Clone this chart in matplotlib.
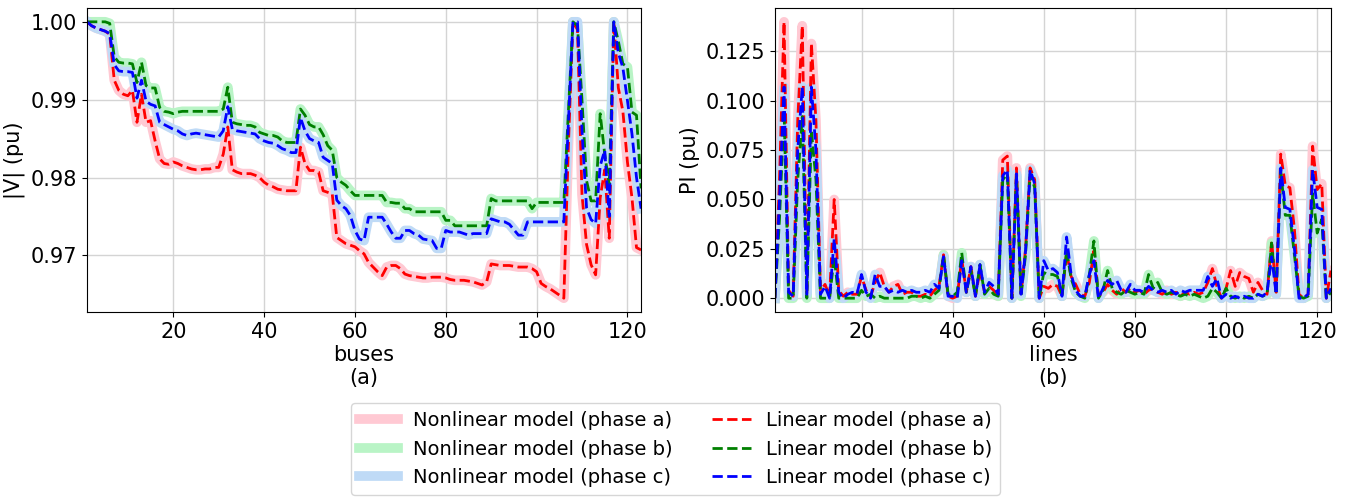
import matplotlib
matplotlib.use('Agg')
import matplotlib.pyplot as plt
import numpy as np

# bus voltage magnitudes |V| (pu), phases a, b, c
v_a = [1.0000, 0.9995, 0.9992, 0.9990, 0.9988, 0.9984, 0.9925, 0.9912, 0.9907, 0.9905,
       0.9912, 0.9871, 0.9907, 0.9871, 0.9873, 0.9847, 0.9824, 0.9818, 0.9817, 0.9820,
       0.9818, 0.9815, 0.9813, 0.9811, 0.9810, 0.9810, 0.9811, 0.9811, 0.9813, 0.9813,
       0.9830, 0.9865, 0.9810, 0.9807, 0.9805, 0.9805, 0.9805, 0.9803, 0.9800, 0.9794,
       0.9790, 0.9788, 0.9785, 0.9784, 0.9783, 0.9783, 0.9783, 0.9839, 0.9818, 0.9809,
       0.9809, 0.9807, 0.9783, 0.9781, 0.9779, 0.9723, 0.9719, 0.9715, 0.9713, 0.9711,
       0.9706, 0.9702, 0.9691, 0.9685, 0.9679, 0.9674, 0.9685, 0.9687, 0.9687, 0.9683,
       0.9676, 0.9674, 0.9673, 0.9672, 0.9671, 0.9671, 0.9672, 0.9672, 0.9672, 0.9671,
       0.9669, 0.9668, 0.9668, 0.9668, 0.9667, 0.9666, 0.9664, 0.9662, 0.9666, 0.9689,
       0.9688, 0.9687, 0.9687, 0.9687, 0.9686, 0.9685, 0.9685, 0.9685, 0.9683, 0.9679,
       0.9664, 0.9660, 0.9657, 0.9653, 0.9649, 0.9645, 0.9840, 1.0000, 0.9990, 0.9778,
       0.9714, 0.9688, 0.9675, 0.9774, 0.9810, 0.9722, 1.0000, 0.9915, 0.9885, 0.9820,
       0.9774, 0.9710, 0.9707]
v_b = [1.0000, 1.0000, 1.0000, 1.0000, 1.0000, 0.9998, 0.9955, 0.9948, 0.9947, 0.9947,
       0.9946, 0.9922, 0.9948, 0.9918, 0.9915, 0.9915, 0.9890, 0.9885, 0.9884, 0.9882,
       0.9884, 0.9885, 0.9885, 0.9885, 0.9885, 0.9885, 0.9885, 0.9885, 0.9885, 0.9885,
       0.9888, 0.9916, 0.9871, 0.9869, 0.9868, 0.9867, 0.9867, 0.9865, 0.9858, 0.9856,
       0.9854, 0.9854, 0.9852, 0.9847, 0.9845, 0.9845, 0.9845, 0.9888, 0.9880, 0.9868,
       0.9865, 0.9865, 0.9855, 0.9841, 0.9835, 0.9800, 0.9794, 0.9790, 0.9783, 0.9777,
       0.9777, 0.9777, 0.9777, 0.9777, 0.9777, 0.9777, 0.9768, 0.9768, 0.9767, 0.9767,
       0.9760, 0.9760, 0.9756, 0.9756, 0.9756, 0.9756, 0.9756, 0.9756, 0.9756, 0.9745,
       0.9745, 0.9738, 0.9738, 0.9738, 0.9738, 0.9738, 0.9738, 0.9738, 0.9738, 0.9773,
       0.9770, 0.9770, 0.9770, 0.9770, 0.9770, 0.9770, 0.9770, 0.9770, 0.9760, 0.9768,
       0.9768, 0.9768, 0.9768, 0.9768, 0.9768, 0.9768, 0.9885, 1.0000, 0.9995, 0.9899,
       0.9796, 0.9770, 0.9770, 0.9882, 0.9830, 0.9790, 1.0000, 0.9975, 0.9946, 0.9942,
       0.9884, 0.9880, 0.9786]
v_c = [1.0000, 0.9995, 0.9992, 0.9990, 0.9988, 0.9985, 0.9945, 0.9937, 0.9936, 0.9936,
       0.9935, 0.9902, 0.9925, 0.9898, 0.9894, 0.9892, 0.9871, 0.9868, 0.9865, 0.9862,
       0.9860, 0.9856, 0.9854, 0.9856, 0.9857, 0.9856, 0.9855, 0.9854, 0.9853, 0.9852,
       0.9860, 0.9891, 0.9862, 0.9860, 0.9859, 0.9858, 0.9857, 0.9856, 0.9850, 0.9847,
       0.9845, 0.9844, 0.9841, 0.9837, 0.9835, 0.9832, 0.9832, 0.9877, 0.9860, 0.9850,
       0.9847, 0.9845, 0.9826, 0.9822, 0.9818, 0.9771, 0.9764, 0.9760, 0.9751, 0.9732,
       0.9721, 0.9719, 0.9749, 0.9749, 0.9749, 0.9749, 0.9740, 0.9730, 0.9722, 0.9722,
       0.9732, 0.9732, 0.9728, 0.9726, 0.9721, 0.9720, 0.9719, 0.9709, 0.9709, 0.9732,
       0.9730, 0.9730, 0.9730, 0.9728, 0.9726, 0.9728, 0.9728, 0.9728, 0.9728, 0.9747,
       0.9745, 0.9743, 0.9743, 0.9740, 0.9733, 0.9726, 0.9726, 0.9743, 0.9743, 0.9743,
       0.9743, 0.9743, 0.9743, 0.9743, 0.9743, 0.9743, 0.9870, 1.0000, 1.0000, 0.9860,
       0.9761, 0.9746, 0.9741, 0.9815, 0.9835, 0.9750, 1.0000, 0.9960, 0.9941, 0.9899,
       0.9856, 0.9800, 0.9760]

# line performance index PI (pu), phases a, b, c
pi_a = [0.000, 0.060, 0.140, 0.004, 0.001, 0.090, 0.138, 0.003, 0.129, 0.090,
        0.004, 0.007, 0.001, 0.050, 0.004, 0.001, 0.003, 0.002, 0.002, 0.011,
        0.004, 0.001, 0.008, 0.013, 0.006, 0.003, 0.006, 0.007, 0.002, 0.003,
        0.003, 0.001, 0.001, 0.002, 0.001, 0.004, 0.006, 0.022, 0.001, 0.000,
        0.001, 0.020, 0.003, 0.016, 0.001, 0.014, 0.003, 0.006, 0.004, 0.001,
        0.070, 0.072, 0.000, 0.066, 0.002, 0.025, 0.066, 0.060, 0.000, 0.006,
        0.005, 0.007, 0.006, 0.001, 0.023, 0.011, 0.007, 0.002, 0.001, 0.008,
        0.024, 0.001, 0.003, 0.007, 0.004, 0.002, 0.005, 0.003, 0.005, 0.003,
        0.004, 0.002, 0.004, 0.005, 0.003, 0.002, 0.004, 0.002, 0.003, 0.001,
        0.003, 0.002, 0.003, 0.002, 0.003, 0.008, 0.015, 0.006, 0.000, 0.005,
        0.014, 0.006, 0.013, 0.011, 0.010, 0.003, 0.008, 0.004, 0.002, 0.029,
        0.003, 0.073, 0.057, 0.056, 0.035, 0.002, 0.000, 0.002, 0.077, 0.055,
        0.058, 0.000, 0.014]
pi_b = [0.000, 0.040, 0.095, 0.000, 0.000, 0.060, 0.092, 0.000, 0.085, 0.060,
        0.000, 0.000, 0.000, 0.021, 0.000, 0.000, 0.000, 0.000, 0.000, 0.004,
        0.001, 0.002, 0.000, 0.001, 0.000, 0.000, 0.000, 0.000, 0.000, 0.000,
        0.001, 0.001, 0.000, 0.001, 0.000, 0.002, 0.004, 0.022, 0.002, 0.001,
        0.003, 0.023, 0.003, 0.014, 0.001, 0.017, 0.002, 0.005, 0.002, 0.001,
        0.060, 0.063, 0.000, 0.062, 0.001, 0.022, 0.063, 0.056, 0.000, 0.013,
        0.012, 0.012, 0.011, 0.001, 0.024, 0.010, 0.003, 0.001, 0.000, 0.012,
        0.029, 0.000, 0.004, 0.014, 0.005, 0.003, 0.002, 0.004, 0.003, 0.002,
        0.003, 0.002, 0.012, 0.005, 0.008, 0.003, 0.002, 0.003, 0.002, 0.001,
        0.002, 0.001, 0.002, 0.001, 0.000, 0.001, 0.005, 0.003, 0.000, 0.005,
        0.001, 0.000, 0.001, 0.000, 0.001, 0.000, 0.002, 0.001, 0.002, 0.028,
        0.002, 0.064, 0.042, 0.042, 0.022, 0.001, 0.000, 0.001, 0.053, 0.033,
        0.040, 0.000, 0.003]
pi_c = [0.000, 0.050, 0.107, 0.003, 0.001, 0.075, 0.107, 0.002, 0.107, 0.075,
        0.002, 0.006, 0.000, 0.030, 0.003, 0.000, 0.002, 0.003, 0.002, 0.012,
        0.003, 0.000, 0.012, 0.006, 0.006, 0.003, 0.004, 0.003, 0.004, 0.003,
        0.004, 0.003, 0.003, 0.004, 0.003, 0.007, 0.005, 0.021, 0.001, 0.001,
        0.000, 0.019, 0.003, 0.016, 0.001, 0.017, 0.003, 0.008, 0.006, 0.002,
        0.062, 0.065, 0.000, 0.063, 0.002, 0.024, 0.065, 0.058, 0.000, 0.019,
        0.014, 0.015, 0.013, 0.001, 0.031, 0.012, 0.004, 0.001, 0.001, 0.012,
        0.019, 0.000, 0.005, 0.009, 0.007, 0.009, 0.004, 0.003, 0.007, 0.004,
        0.004, 0.003, 0.006, 0.004, 0.003, 0.004, 0.003, 0.004, 0.002, 0.004,
        0.003, 0.004, 0.004, 0.004, 0.004, 0.011, 0.006, 0.010, 0.000, 0.002,
        0.000, 0.001, 0.000, 0.001, 0.000, 0.000, 0.002, 0.001, 0.003, 0.021,
        0.002, 0.066, 0.046, 0.045, 0.025, 0.000, 0.000, 0.002, 0.065, 0.046,
        0.045, 0.000, 0.005]

buses = np.arange(1, len(v_a) + 1)
lines = np.arange(1, len(pi_a) + 1)
phases = ['a', 'b', 'c']
nl_colors = ['#ffc9d3', '#b9f4c6', '#bfdaf6']
lin_colors = ['r', 'g', 'b']

fig = plt.figure(figsize=(13.51, 4.97), dpi=100)
ax1 = fig.add_axes([0.0644, 0.3722, 0.4101, 0.6117])
ax2 = fig.add_axes([0.5736, 0.3722, 0.4115, 0.6117])

for ax, x, series in [(ax1, buses, [v_a, v_b, v_c]), (ax2, lines, [pi_a, pi_b, pi_c])]:
    for k in range(3):
        ax.plot(x, series[k], color=nl_colors[k], lw=7,
                label='Nonlinear model (phase %s)' % phases[k])
    for k in range(3):
        ax.plot(x, series[k], '--', color=lin_colors[k], lw=2,
                label='Linear model (phase %s)' % phases[k])
    ax.grid(True, color='#d4d4d4', lw=1)
    ax.set_xlim(1, 123)
    ax.set_xticks([20, 40, 60, 80, 100, 120])
    ax.tick_params(labelsize=15)

ax1.set_yticks([0.97, 0.98, 0.99, 1.00])
ax1.set_xlabel('buses\n(a)', fontsize=15, labelpad=2)
ax1.set_ylabel('|V| (pu)', fontsize=15)
ax2.set_yticks([0.0, 0.025, 0.05, 0.075, 0.1, 0.125])
ax2.yaxis.set_major_formatter(plt.FormatStrFormatter('%.3f'))
ax2.set_xlabel('lines\n(b)', fontsize=15, labelpad=2)
ax2.set_ylabel('PI (pu)', fontsize=15)

handles, labels = ax1.get_legend_handles_labels()
fig.legend(handles, labels, loc='lower center', ncol=2, fontsize=14,
           bbox_to_anchor=(0.5, 0.0), borderaxespad=0.1, columnspacing=2.0)

fig.savefig('out.png', dpi=100)
